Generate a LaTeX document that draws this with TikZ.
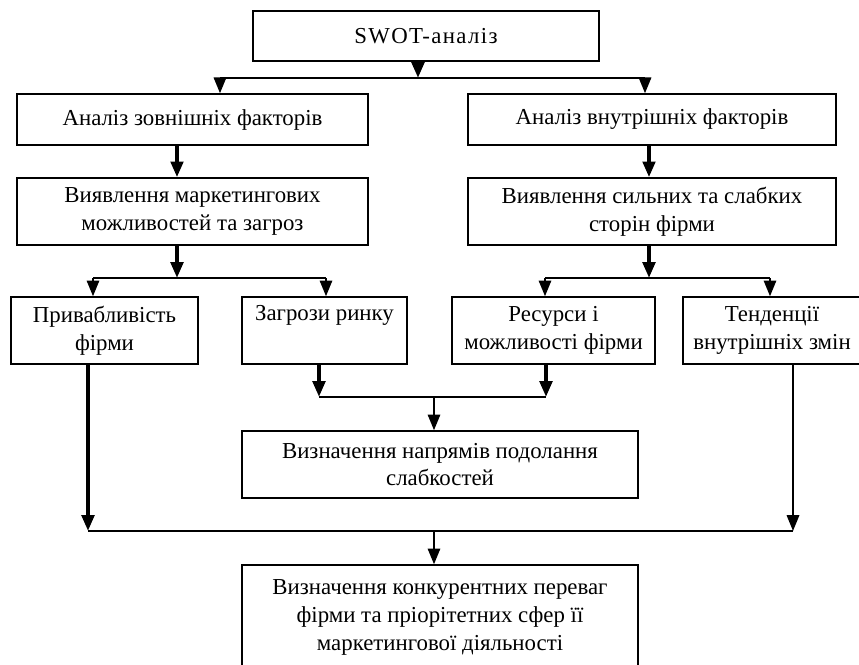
\documentclass[tikz,border=0pt]{standalone}
\usepackage{fontspec}
\setmainfont{Liberation Serif}
\usetikzlibrary{arrows.meta}

\begin{document}
\begin{tikzpicture}[x=0.02cm,y=-0.02cm,
        box/.style={draw,line width=0.8pt,align=center,inner sep=0pt,font=\fontsize{13}{15.8}\selectfont},
        arr/.style={line width=2.2pt,-{Triangle[length=9pt,width=7pt]}},
        arrthin/.style={line width=1.3pt,-{Triangle[length=9pt,width=7pt]}},
        bus/.style={line width=0.8pt}]
            \useasboundingbox (0,0) rectangle (859,664);

            \node (swot) at (426,36) [box,minimum width=6.92cm,minimum height=1cm] {\addfontfeatures{LetterSpace=6}SWOT-аналіз};
            \node (zovn) at (192.5,119.5) [box,minimum width=7.02cm,minimum height=1.02cm] {Аналіз зовнішніх факторів};
            \node (vnutr) at (652,119.5) [box,minimum width=7.36cm,minimum height=1.02cm] {Аналіз внутрішніх факторів};
            \node (vyavl1) at (192.5,211.5) [box,minimum width=7.02cm,minimum height=1.34cm] {Виявлення маркетингових\\можливостей та загроз};
            \node (vyavl2) at (652,211.5) [box,minimum width=7.36cm,minimum height=1.34cm] {Виявлення сильних та слабких\\сторін фірми};
            \node (pryv) at (104.5,330.5) [box,minimum width=3.74cm,minimum height=1.34cm] {Привабливість\\фірми};
            \node (zagr) at (324.5,330.5) [box,minimum width=3.3cm,minimum height=1.34cm] {Загрози ринку\\\strut};
            \node (resur) at (553.5,330.5) [box,minimum width=4.06cm,minimum height=1.34cm] {Ресурси і\\можливості фірми};
            \node (tend) at (772,330.5) [box,minimum width=3.56cm,minimum height=1.34cm] {Тенденції\\внутрішніх змін};
            \node (napr) at (440,464.5) [box,minimum width=7.92cm,minimum height=1.34cm] {Визначення напрямів подолання\\слабкостей};
            \node (konk) at (440,617.5) [box,minimum width=7.92cm,minimum height=2.1cm] {Визначення конкурентних переваг\\фірми та пріорітетних сфер її\\маркетингової діяльності};

            % top split
            \coordinate (top) at (418,78);
            \coordinate (tl) at (220,78);
            \coordinate (tr) at (645,78);
            \draw[arr] (swot.south -| top) -- (top);
            \draw[bus] (tl) -- (tr);
            \draw[arrthin] (tl) -- (zovn.north -| tl);
            \draw[arrthin] (tr) -- (vnutr.north -| tr);

            % left branch
            \coordinate (sl) at (177,278);
            \coordinate (sl1) at (93,278);
            \coordinate (sl2) at (326,278);
            \draw[arr] (zovn.south -| sl) -- (vyavl1.north -| sl);
            \draw[arr] (vyavl1.south -| sl) -- (sl);
            \draw[bus] (sl1) -- (sl2);
            \draw[arrthin] (sl1) -- (pryv.north -| sl1);
            \draw[arrthin] (sl2) -- (zagr.north -| sl2);

            % right branch
            \coordinate (sr) at (649,278);
            \coordinate (sr1) at (545,278);
            \coordinate (sr2) at (770,278);
            \draw[arr] (vnutr.south -| sr) -- (vyavl2.north -| sr);
            \draw[arr] (vyavl2.south -| sr) -- (sr);
            \draw[bus] (sr1) -- (sr2);
            \draw[arrthin] (sr1) -- (resur.north -| sr1);
            \draw[arrthin] (sr2) -- (tend.north -| sr2);

            % middle merge
            \coordinate (ml) at (319,397);
            \coordinate (mr) at (546,397);
            \coordinate (mc) at (434,397);
            \draw[arr] (zagr.south -| ml) -- (ml);
            \draw[arr] (resur.south -| mr) -- (mr);
            \draw[bus] (ml) -- (mr);
            \draw[arrthin] (mc) -- (napr.north -| mc);

            % bottom merge
            \coordinate (bl) at (88,531);
            \coordinate (br) at (793,531);
            \coordinate (bc) at (434,531);
            \draw[arr] (pryv.south -| bl) -- (bl);
            \draw[arrthin] (tend.south -| br) -- (br);
            \draw[bus] (bl) -- (br);
            \draw[arrthin] (bc) -- (konk.north -| bc);

        \end{tikzpicture}
\end{document}
